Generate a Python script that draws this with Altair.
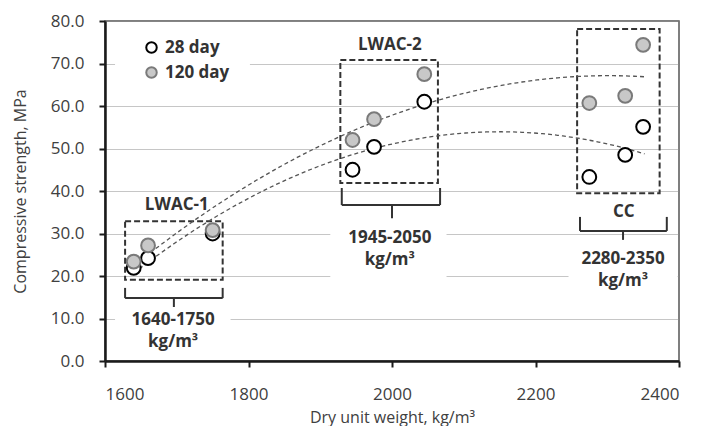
import altair as alt
import pandas as pd

# ---- data ----
weight = [1640, 1660, 1750, 1945, 1975, 2045, 2275, 2325, 2350]
day28 = [21.9, 24.2, 30.0, 45.0, 50.4, 61.0, 43.3, 48.5, 55.1]
day120 = [23.4, 27.2, 30.8, 52.0, 56.9, 67.5, 60.7, 62.4, 74.4]
ages = ["28 day", "120 day"]

# group boxes (dashed rectangles)
box_x1 = [1628, 1928, 2258]
box_x2 = [1764, 2064, 2373]
box_y1 = [19.1, 41.9, 39.5]
box_y2 = [32.9, 70.8, 78.1]

# braces
brace_left = [1628, 1930, 2262]
brace_right = [1764, 2067, 2383]
brace_center = [1696, 2000, 2322]
brace_top = [17.2, 40.7, 33.9]
brace_mid = [14.8, 36.7, 30.6]
brace_tip = [12.7, 33.6, 28.5]

# annotation texts
label_text = ["LWAC-1", "LWAC-2", "CC", "1640-1750", "kg/m³", "1945-2050", "kg/m³", "2280-2350", "kg/m³"]
label_x = [1700, 1997, 2323, 1695, 1695, 1997, 1997, 2322, 2322]
label_y = [36.7, 74.4, 35.1, 9.6, 4.5, 28.9, 23.8, 24.0, 18.8]

# white areas that interrupt the gridlines behind the labels
gap_x1 = [1614, 1614, 1914, 2246]
gap_x2 = [1802, 1775, 2076, 2398]
gap_y1 = [66, 8, 18, 18]
gap_y2 = [74, 12, 32, 22]

FONT = "Open Sans"
TXT = "#333333"

xs = alt.Scale(domain=[1600, 2400], nice=False, zero=False)
ys = alt.Scale(domain=[0, 80], nice=False)

X_AX = alt.Axis(values=[1600, 1800, 2000, 2200, 2400], title="Dry unit weight, kg/m³",
                grid=False, format="d", tickSize=6, labelPadding=19, titlePadding=7)
Y_AX = alt.Axis(values=list(range(0, 90, 10)), format=".1f", title="Compressive strength, MPa",
                grid=True, gridDash=[1, 1], gridColor="#8c8c8c", gridWidth=1,
                tickSize=6, labelPadding=15, titlePadding=22)

pts = pd.DataFrame({
    "weight": weight + weight,
    "strength": day28 + day120,
    "age": ["28 day"] * len(weight) + ["120 day"] * len(weight),
})
boxes = pd.DataFrame({"x1": box_x1, "x2": box_x2, "y1": box_y1, "y2": box_y2})
gaps = pd.DataFrame({"x1": gap_x1, "x2": gap_x2, "y1": gap_y1, "y2": gap_y2})

seg = []
for l, r, c, t, m, tp in zip(brace_left, brace_right, brace_center, brace_top, brace_mid, brace_tip):
    seg.append({"x1": l, "x2": l, "y1": t, "y2": m})
    seg.append({"x1": r, "x2": r, "y1": t, "y2": m})
    seg.append({"x1": l, "x2": r, "y1": m, "y2": m})
    seg.append({"x1": c, "x2": c, "y1": m, "y2": tp})
braces = pd.DataFrame(seg)
labels = pd.DataFrame({"x": label_x, "y": label_y, "text": label_text})

gap_layer = alt.Chart(gaps).mark_rect(fill="white", strokeWidth=0).encode(
    x=alt.X("x1:Q", scale=xs, axis=X_AX), x2="x2:Q",
    y=alt.Y("y1:Q", scale=ys, axis=Y_AX), y2="y2:Q",
)

box_layer = alt.Chart(boxes).mark_rect(
    filled=False, stroke="#333333", strokeWidth=2, strokeDash=[6, 3]
).encode(
    x=alt.X("x1:Q", scale=xs, axis=X_AX), x2="x2:Q",
    y=alt.Y("y1:Q", scale=ys, axis=Y_AX), y2="y2:Q",
)

brace_layer = alt.Chart(braces).mark_rule(color="#333333", strokeWidth=2).encode(
    x=alt.X("x1:Q", scale=xs, axis=X_AX), x2="x2:Q",
    y=alt.Y("y1:Q", scale=ys, axis=Y_AX), y2="y2:Q",
)

trend_layer = alt.Chart(pts).transform_regression(
    "weight", "strength", groupby=["age"], method="poly", order=2, extent=[1640, 2352]
).mark_line(color="#555555", strokeWidth=1.3, strokeDash=[4, 3]).encode(
    x=alt.X("weight:Q", scale=xs, axis=X_AX),
    y=alt.Y("strength:Q", scale=ys, axis=Y_AX),
    detail="age:N",
)

point_layer = alt.Chart(pts).mark_point(filled=True, size=190, strokeWidth=2, opacity=1).encode(
    x=alt.X("weight:Q", scale=xs, axis=X_AX),
    y=alt.Y("strength:Q", scale=ys, axis=Y_AX),
    fill=alt.Fill("age:N", scale=alt.Scale(domain=ages, range=["white", "#c8c8c8"]),
                  legend=alt.Legend(title=None)),
    stroke=alt.Stroke("age:N", scale=alt.Scale(domain=ages, range=["black", "#7a7a7a"]),
                      legend=alt.Legend(title=None)),
)

text_layer = alt.Chart(labels).mark_text(
    font=FONT, fontSize=17, fontWeight="bold", color=TXT, align="center", baseline="middle"
).encode(
    x=alt.X("x:Q", scale=xs, axis=X_AX),
    y=alt.Y("y:Q", scale=ys, axis=Y_AX),
    text="text:N",
)

chart = alt.layer(
    gap_layer, box_layer, brace_layer, trend_layer, point_layer, text_layer
).properties(
    width=574, height=340,
    padding={"left": 97, "top": 13, "right": 15, "bottom": 72},
    autosize=alt.AutoSizeParams(type="none"),
).configure_view(
    stroke="#555555", strokeWidth=1.5
).configure_axis(
    labelFont=FONT, labelFontSize=17, labelColor="#404040",
    titleFont=FONT, titleFontSize=16, titleFontWeight="normal", titleColor="#404040",
    domainColor="#1a1a1a", domainWidth=2.5, tickColor="#1a1a1a", tickWidth=2,
).configure_legend(
    orient="none", legendX=38, legendY=18, padding=0,
    labelFont=FONT, labelFontSize=17, labelFontWeight="bold", labelColor=TXT,
    symbolType="circle", symbolSize=110, symbolStrokeWidth=2, labelOffset=5,
    rowPadding=6,
)

chart.save("out.html", embed_options={"renderer": "svg", "actions": False})
